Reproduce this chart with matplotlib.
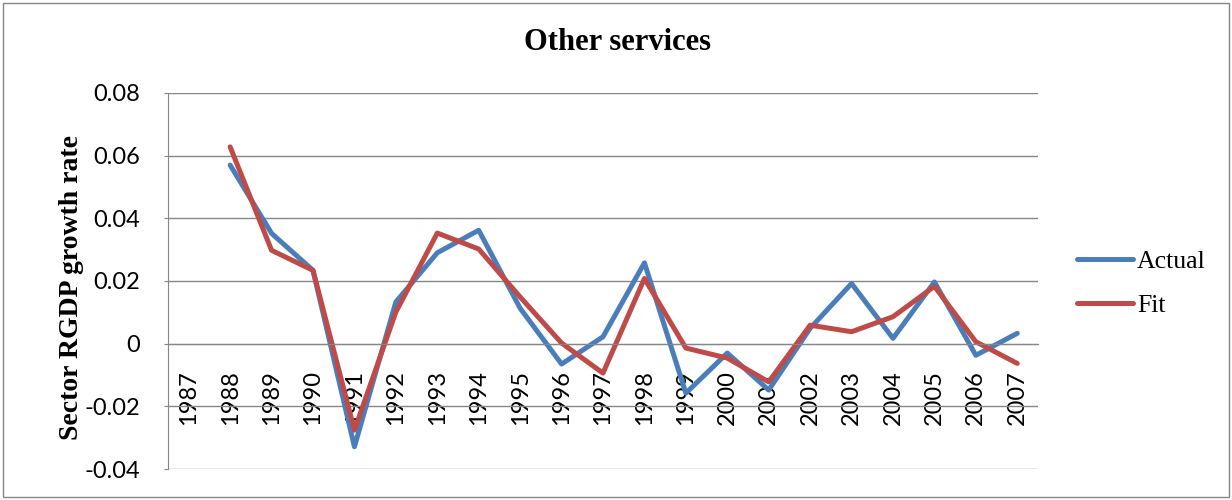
import numpy as np
import matplotlib
matplotlib.use('Agg')
import matplotlib.pyplot as plt
from matplotlib.patches import Rectangle

years = [str(y) for y in range(1987, 2008)]
actual = [np.nan, 0.0570, 0.0352, 0.0234, -0.0329, 0.0133, 0.0290, 0.0362, 0.0113, -0.0065,
          0.0022, 0.0258, -0.0158, -0.0030, -0.0148, 0.0049, 0.0192, 0.0017, 0.0197,
          -0.0037, 0.0033]
fit = [np.nan, 0.0628, 0.0298, 0.0234, -0.0276, 0.0101, 0.0353, 0.0302, 0.0149, 0.0002,
       -0.0094, 0.0208, -0.0014, -0.0046, -0.0122, 0.0059, 0.0038, 0.0086, 0.0183,
       0.0006, -0.0063]
yticks = [-0.04, -0.02, 0, 0.02, 0.04, 0.06, 0.08]
ytick_labels = ['-0.04', '-0.02', '0', '0.02', '0.04', '0.06', '0.08']

grey = '#868686'
blue = '#4A7EBB'
red = '#BE4B48'

fig = plt.figure(figsize=(12.32, 5.0), dpi=100)
ax = fig.add_axes([168 / 1232, 1 - 469 / 500, (1038 - 168) / 1232, (469 - 93) / 500])

# category axis crosses the value axis at zero
for s in ['top', 'right']:
    ax.spines[s].set_visible(False)
ax.spines['left'].set_color(grey)
ax.spines['bottom'].set_color(grey)
ax.spines['bottom'].set_position(('data', 0))

x = np.arange(len(years))
ax.plot(x, actual, color=blue, lw=3.6, solid_capstyle='round', solid_joinstyle='round', label='Actual')
ax.plot(x, fit, color=red, lw=3.6, solid_capstyle='round', solid_joinstyle='round', label='Fit')

ax.set_xlim(-0.5, len(years) - 0.5)
ax.set_ylim(-0.04, 0.08)
ax.set_yticks(yticks)
ax.set_yticklabels(ytick_labels, fontfamily='Lato', fontsize=17)
ax.set_xticks(x)
ax.set_xticklabels(years, rotation=90, fontfamily='Lato', fontsize=17)

ax.grid(axis='y', color=grey, lw=1.0)
ax.set_axisbelow(True)
ax.tick_params(axis='y', length=3, color=grey, pad=17)
ax.tick_params(axis='x', length=0, pad=19)

fig.text(618 / 1232, 1 - 43 / 500, 'Other services', ha='center', va='center',
         fontfamily='Liberation Serif', fontweight='bold', fontsize=22)
fig.text(72 / 1232, 1 - 287 / 500, 'Sector RGDP growth rate', rotation=90, ha='center', va='center',
         fontfamily='Liberation Serif', fontweight='bold', fontsize=20)

ax.legend(loc='center left', bbox_to_anchor=(1077 / 1232, 1 - 283.5 / 500), bbox_transform=fig.transFigure,
          frameon=False, borderpad=0, borderaxespad=0, handlelength=2.18, handletextpad=0.16,
          labelspacing=0.85, prop={'family': 'Liberation Serif', 'size': 18.5})

fig.patches.append(Rectangle((3 / 1232, 3 / 500), 1226 / 1232, 494 / 500, transform=fig.transFigure,
                             fill=False, edgecolor=grey, lw=1.0))

fig.savefig('out.png', dpi=100)
